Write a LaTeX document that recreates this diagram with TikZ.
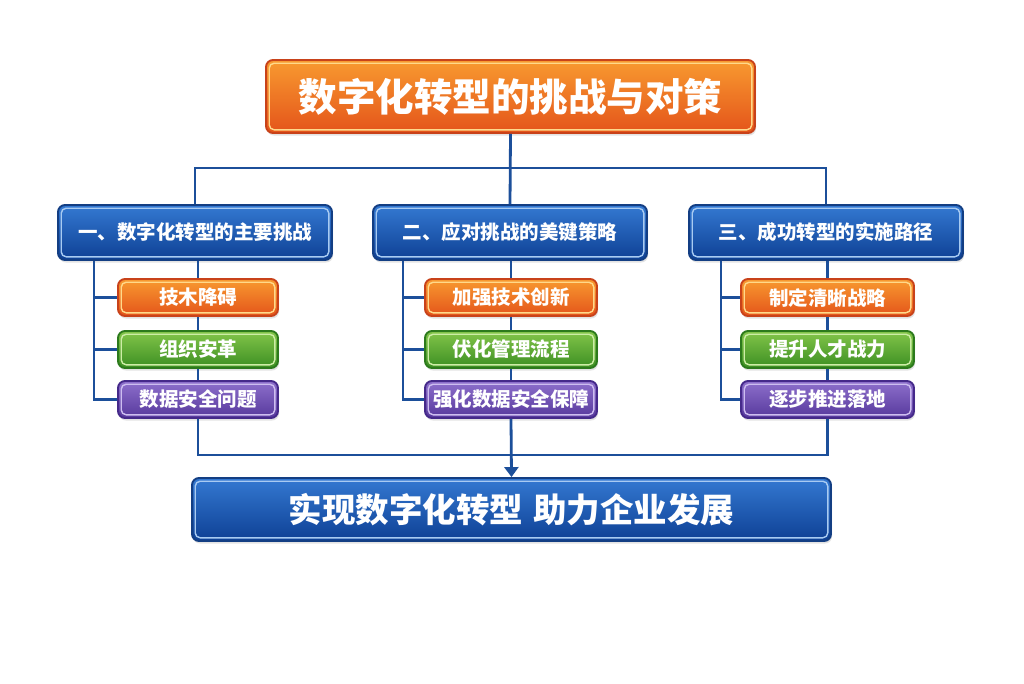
\documentclass[tikz,border=0pt]{standalone}
\usepackage{fontspec}
\setmainfont{Noto Sans CJK SC}
\usetikzlibrary{shadows,arrows.meta}
\definecolor{linecol}{HTML}{1C4F9A}
\definecolor{orT}{HTML}{F89A30}
\definecolor{orB}{HTML}{E4541A}
\definecolor{orD}{HTML}{C8421A}
\definecolor{orL}{HTML}{FFD98A}
\definecolor{blT}{HTML}{3479D2}
\definecolor{blB}{HTML}{0E4094}
\definecolor{blD}{HTML}{133E83}
\definecolor{blL}{HTML}{A8CBF2}
\definecolor{grT}{HTML}{84C64A}
\definecolor{grB}{HTML}{3B8E22}
\definecolor{grD}{HTML}{2C7A1C}
\definecolor{grL}{HTML}{CDEDA6}
\definecolor{puT}{HTML}{8E70CC}
\definecolor{puB}{HTML}{56389C}
\definecolor{puD}{HTML}{45298A}
\definecolor{puL}{HTML}{CDBDF0}
\tikzset{
  mybox/.style n args={4}{top color=#1, bottom color=#2, draw=#3, line width=1.9pt,
    rounded corners=7pt, text=white, font=\bfseries, align=center, inner sep=0pt,
    drop shadow={opacity=0.22, shadow xshift=1pt, shadow yshift=-2.5pt},
    path picture={\draw[#4, line width=1.4pt, rounded corners=5pt]
      ([shift={(3.2pt,-3.2pt)}]path picture bounding box.north west) rectangle
      ([shift={(-3.2pt,3.2pt)}]path picture bounding box.south east);}},
  orbox/.style={mybox={orT}{orB}{orD}{orL}},
  blbox/.style={mybox={blT}{blB}{blD}{blL}},
  grbox/.style={mybox={grT}{grB}{grD}{grL}},
  pubox/.style={mybox={puT}{puB}{puD}{puL}},
  headbox/.style={blbox, minimum width=274pt, minimum height=55pt, font=\bfseries\fontsize{19.5}{22}\selectfont},
  subbox/.style={minimum height=37pt, font=\bfseries\fontsize{19.5}{22}\selectfont},
  conn/.style={draw=linecol, line width=2.8pt},
}
\begin{document}
\begin{tikzpicture}[x=1pt,y=1pt]
\useasboundingbox (0,0) rectangle (1024,-683);
\fill[white] (0,0) rectangle (1024,-683);
% title
\node[orbox, minimum width=489pt, minimum height=73pt, font=\bfseries\fontsize{38.5}{42}\selectfont] (T) at (510.5,-96.5) {数字化转型的挑战与对策};
% headers
\node[headbox] (H1) at (195,-232.5) {一、数字化转型的主要挑战};
\node[headbox] (H2) at (510,-232.5) {二、应对挑战的美键策略};
\node[headbox] (H3) at (826,-232.5) {三、成功转型的实施路径};
% column 1
\node[orbox, subbox, minimum width=160pt] (A1) at (198,-297.5) {技木降碍};
\node[grbox, subbox, minimum width=160pt] (A2) at (198,-349.5) {组织安革};
\node[pubox, subbox, minimum width=160pt] (A3) at (198,-399.5) {数据安全问题};
% column 2
\node[orbox, subbox, minimum width=172pt] (B1) at (511,-297.5) {加强技术创新};
\node[grbox, subbox, minimum width=172pt] (B2) at (511,-349.5) {伏化管理流程};
\node[pubox, subbox, minimum width=172pt] (B3) at (511,-399.5) {强化数据安全保障};
% column 3
\node[orbox, subbox, minimum width=173pt] (C1) at (827.5,-297.5) {制定清晰战略};
\node[grbox, subbox, minimum width=173pt] (C2) at (827.5,-349.5) {提升人才战力};
\node[pubox, subbox, minimum width=173pt] (C3) at (827.5,-399.5) {逐步推进落地};
% bottom
\node[blbox, minimum width=639pt, minimum height=63pt, font=\bfseries\fontsize{33.5}{38}\selectfont] (F) at (511.5,-509.5) {实现数字化转型\hspace{0.3em}助力企业发展};
% junction coordinates
\coordinate (jt) at (0,-168);
\coordinate (jb) at (0,-455);
\coordinate (L1) at (94,0);
\coordinate (L2) at (403,0);
\coordinate (L3) at (721,0);
% top connectors
\draw[conn] (T.south) -- (H2.north);
\draw[conn] (H1.north) -- (H1.north |- jt) -- (H3.north |- jt) -- (H3.north);
% column spines
\foreach \h/\a/\b/\c/\l in {H1/A1/A2/A3/L1, H2/B1/B2/B3/L2, H3/C1/C2/C3/L3}{
  \draw[conn] (\a.north |- \h.south) -- (\a.north);
  \draw[conn] (\a.south) -- (\b.north);
  \draw[conn] (\b.south) -- (\c.north);
  \draw[conn] (\l |- \h.south) -- (\l |- \c.west) -- (\c.west);
  \draw[conn] (\l |- \a.west) -- (\a.west);
  \draw[conn] (\l |- \b.west) -- (\b.west);
}
% bottom connectors
\draw[conn] (A3.south) -- (A3.south |- jb) -- (C3.south |- jb) -- (C3.south);
\draw[conn, -{Triangle[length=10pt, width=14pt]}] (B3.south) -- (F.north);
\end{tikzpicture}
\end{document}
